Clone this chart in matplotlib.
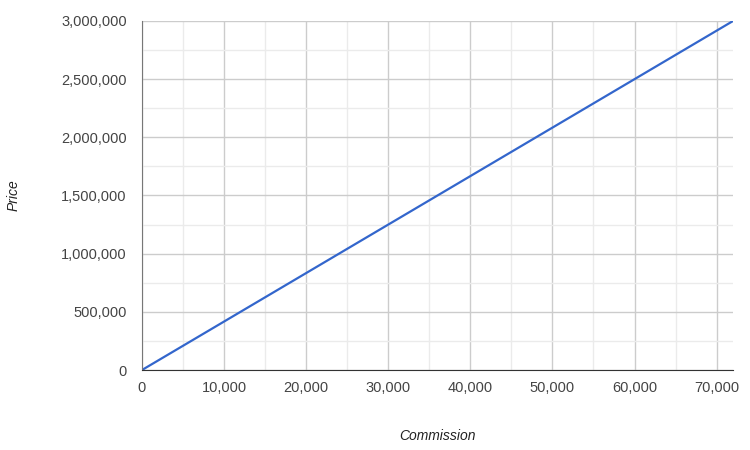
import matplotlib
matplotlib.use("Agg")
import matplotlib.pyplot as plt
from matplotlib.ticker import FuncFormatter, MultipleLocator

# Datos
comision = [0, 72000]
precio = [0, 3000000]

plt.rcParams["font.family"] = ["Liberation Sans", "DejaVu Sans"]

fig = plt.figure(figsize=(7.5, 4.5), dpi=100)
ax = fig.add_axes([142 / 750, 80 / 450, 591 / 750, 349 / 450])

ax.plot(comision, precio, color="#3366cc", linewidth=1.6, solid_capstyle="round")

ax.set_xlim(0, 72000)
ax.set_ylim(0, 3000000)

ax.xaxis.set_major_locator(MultipleLocator(10000))
ax.xaxis.set_minor_locator(MultipleLocator(5000))
ax.yaxis.set_major_locator(MultipleLocator(500000))
ax.yaxis.set_minor_locator(MultipleLocator(250000))

fmt = FuncFormatter(lambda v, p: f"{int(v):,}")
ax.xaxis.set_major_formatter(fmt)
ax.yaxis.set_major_formatter(fmt)

ax.grid(which="major", color="#cccccc", linewidth=1)
ax.grid(which="minor", color="#ebebeb", linewidth=1)
ax.set_axisbelow(True)

ax.tick_params(which="both", length=0)
ax.tick_params(axis="x", pad=8, labelsize=10.5, colors="#444444")
ax.tick_params(axis="y", pad=11, labelsize=10.5, colors="#444444")

for s in ["top", "right"]:
    ax.spines[s].set_visible(False)
ax.spines["left"].set_color("#777777")
ax.spines["bottom"].set_color("#333333")
ax.spines["left"].set_zorder(3)
ax.spines["bottom"].set_zorder(3)

fig.text(437 / 750, 1 - 436 / 450, "Commission", ha="center", va="center",
         fontsize=10, style="italic", color="#222222")
fig.text(14 / 750, 1 - 195 / 450, "Price", ha="center", va="center",
         fontsize=10, style="italic", color="#222222", rotation=90)

fig.savefig("out.png", dpi=100, facecolor="white")
